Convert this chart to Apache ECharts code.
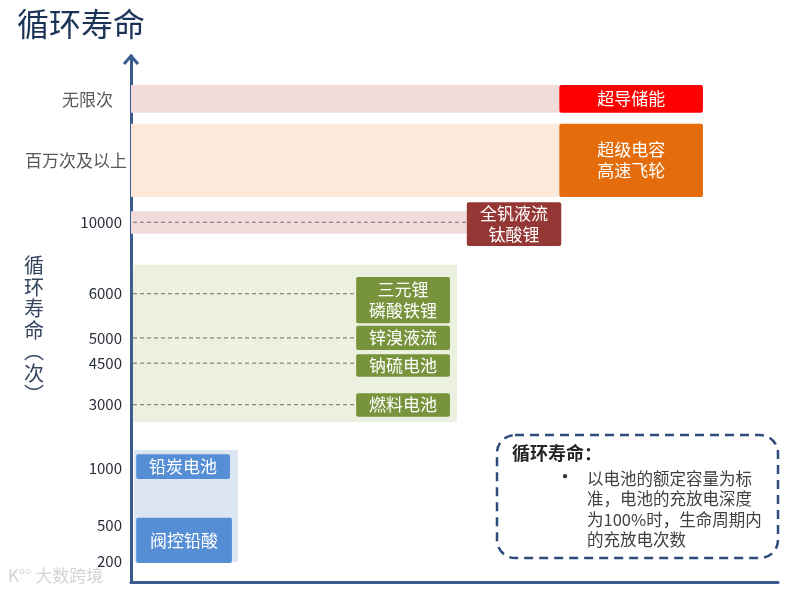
<!DOCTYPE html>
<html>
<head>
<meta charset="utf-8">
<title>循环寿命</title>
<script src="https://cdn.jsdelivr.net/npm/echarts@6/dist/echarts.min.js"></script>
<style>
    html, body { margin: 0; padding: 0; background: #fff; }
    #main { width: 804px; height: 594px; }
</style>
</head>
<body>
<div id="main"></div>
<script>
    // 纵轴为示意刻度（非线性），level 为刻度在轴上的位置
    const tickLabels = ['200', '500', '1000', '3000', '4500', '5000', '6000', '10000', '百万次及以上', '无限次'];
    const tickLevels = [4.0, 10.8, 21.7, 33.7, 41.6, 46.4, 54.8, 68.4, 80.2, 91.8];

    // 各储能技术及其所处区间
    const techNames = ['阀控铅酸', '铅炭电池', '燃料电池', '钠硫电池', '锌溴液流', '三元锂\n磷酸铁锂', '全钒液流\n钛酸锂', '超级电容\n高速飞轮', '超导储能'];
    const techLow   = [3.6, 19.6, 31.4, 39.0, 44.1, 49.2, 63.9, 73.2, 89.2];
    const techHigh  = [12.2, 24.3, 35.9, 43.3, 48.7, 58.0, 72.2, 87.1, 94.5];
    const techStart = [0.8, 0.8, 34.8, 34.8, 34.8, 34.8, 51.9, 66.2, 66.2];
    const techEnd   = [15.6, 15.3, 49.3, 49.3, 49.3, 49.3, 66.5, 88.4, 88.4];

    // 背景色带
    const bandLow   = [3.8, 30.4, 66.2, 73.2, 89.2];
    const bandHigh  = [25.1, 60.3, 70.5, 87.1, 94.5];
    const bandStart = [0.5, 0.3, 0, 0, 0];
    const bandEnd   = [16.5, 50.4, 51.9, 66.2, 66.2];

    // 虚线引导：刻度序号 -> 结束位置
    const guideTick = [3, 4, 5, 6, 7];
    const guideEnd  = [34.8, 34.8, 34.8, 34.8, 51.9];

    const techColors = ['#558ed5', '#558ed5', '#77933c', '#77933c', '#77933c', '#77933c', '#953735', '#e46c0a', '#ff0000'];
    const bandColors = ['#dce6f2', '#ebf1de', '#f2dcdb', '#fde9d9', '#f2dcdb'];

    const FONT = '"Noto Sans CJK SC", "Noto Sans", sans-serif';
    const axisColor = '#3b5b8f';

    function rectItem(api) {
        let p0 = api.coord([api.value(0), api.value(3)]);
        let p1 = api.coord([api.value(1), api.value(2)]);
        return { x: p0[0], y: p0[1], width: p1[0] - p0[0], height: p1[1] - p0[1] };
    }

    let myChart = echarts.init(document.getElementById('main'));
    let option = {
        animation: false,
        title: {
            text: '循环寿命',
            left: 12,
            top: 3,
            textStyle: { fontFamily: FONT, fontSize: 32, fontWeight: 'normal', color: '#1c3358' }
        },
        grid: { left: 131, right: 26, top: 56, bottom: 12 },
        xAxis: {
            type: 'value',
            min: 0,
            max: 100,
            axisLine: { show: true, lineStyle: { color: axisColor, width: 3 } },
            axisTick: { show: false },
            axisLabel: { show: false },
            splitLine: { show: false }
        },
        yAxis: {
            type: 'value',
            min: 0,
            max: 100,
            axisLine: { show: true, lineStyle: { color: axisColor, width: 3 } },
            axisTick: { show: false },
            splitLine: { show: false },
            axisLabel: {
                customValues: tickLevels,
                margin: 4,
                formatter: function (v) {
                    let best = 0;
                    tickLevels.forEach((t, i) => {
                        if (Math.abs(t - v) < Math.abs(tickLevels[best] - v)) best = i;
                    });
                    let s = tickLabels[best];
                    if (/^\d+$/.test(s)) return '{num|' + s + '}';
                    return s.length > 3 ? '{cn|' + s + '}' : '{cn2|' + s + '}';
                },
                rich: {
                    num: { fontFamily: FONT, fontSize: 15, color: '#262c3a', padding: [0, 5, 0, 0] },
                    cn: { fontFamily: FONT, fontSize: 17, color: '#595959' },
                    cn2: { fontFamily: FONT, fontSize: 17, color: '#595959', padding: [0, 14, 0, 0] }
                }
            }
        },
        graphic: [
            {
                type: 'polyline',
                shape: { points: [[124, 64], [131, 56], [138, 64]] },
                style: { stroke: axisColor, lineWidth: 3, fill: null }
            },
            {
                type: 'text',
                left: 24,
                top: 255,
                style: {
                    text: '循\n环\n寿\n命\n︵\n次\n︶',
                    fontFamily: FONT,
                    fontSize: 20,
                    lineHeight: 21.5,
                    fill: '#34445f',
                    align: 'center'
                }
            },
            {
                type: 'rect',
                shape: { x: 497, y: 435, width: 281, height: 123, r: 18 },
                style: { fill: '#fff', stroke: '#2f4b7c', lineWidth: 2.5, lineDash: [9, 6] }
            },
            {
                type: 'text',
                x: 512,
                y: 444,
                style: { text: '循环寿命：', fontFamily: FONT, fontSize: 18, fontWeight: 'bold', fill: '#262626' }
            },
            {
                type: 'text',
                x: 555,
                y: 466,
                style: { text: '•', fontFamily: FONT, fontSize: 20, fill: '#333333' }
            },
            {
                type: 'text',
                x: 587,
                y: 468,
                style: {
                    text: '以电池的额定容量为标\n准，电池的充放电深度\n为100%时，生命周期内\n的充放电次数',
                    fontFamily: FONT,
                    fontSize: 16.5,
                    lineHeight: 20.5,
                    fill: '#404040'
                }
            },
            {
                type: 'text',
                x: 8,
                y: 567,
                style: {
                    text: 'K°° 大数跨境',
                    fontFamily: FONT,
                    fontSize: 17,
                    fill: '#d4d4d4',
                    stroke: '#ffffff',
                    lineWidth: 1
                }
            }
        ],
        series: [
            {
                type: 'custom',
                z: 1,
                silent: true,
                encode: { x: [0, 1], y: [2, 3] },
                data: bandLow.map((v, i) => [bandStart[i], bandEnd[i], v, bandHigh[i]]),
                renderItem: function (params, api) {
                    return { type: 'rect', shape: rectItem(api), style: { fill: bandColors[params.dataIndex] } };
                }
            },
            {
                type: 'custom',
                z: 2,
                silent: true,
                encode: { x: [0, 1], y: 2 },
                data: guideTick.map((t, i) => [0, guideEnd[i], tickLevels[t]]),
                renderItem: function (params, api) {
                    let a = api.coord([api.value(0), api.value(2)]);
                    let b = api.coord([api.value(1), api.value(2)]);
                    return {
                        type: 'line',
                        shape: { x1: a[0] + 2, y1: a[1], x2: b[0], y2: b[1] },
                        style: { stroke: '#6b6b6b', lineWidth: 1, lineDash: [4, 3] }
                    };
                }
            },
            {
                type: 'custom',
                z: 3,
                silent: true,
                encode: { x: [0, 1], y: [2, 3] },
                data: techLow.map((v, i) => [techStart[i], techEnd[i], v, techHigh[i]]),
                renderItem: function (params, api) {
                    let r = rectItem(api);
                    let i = params.dataIndex;
                    return {
                        type: 'group',
                        children: [
                            { type: 'rect', shape: Object.assign({ r: 2 }, r), style: { fill: techColors[i] } },
                            {
                                type: 'text',
                                style: {
                                    text: techNames[i],
                                    x: r.x + r.width / 2,
                                    y: r.y + r.height / 2,
                                    align: 'center',
                                    verticalAlign: 'middle',
                                    fontFamily: FONT,
                                    fontSize: 17,
                                    lineHeight: 21,
                                    fill: '#ffffff'
                                }
                            }
                        ]
                    };
                }
            }
        ]
    };
    myChart.setOption(option);
</script>
</body>
</html>
